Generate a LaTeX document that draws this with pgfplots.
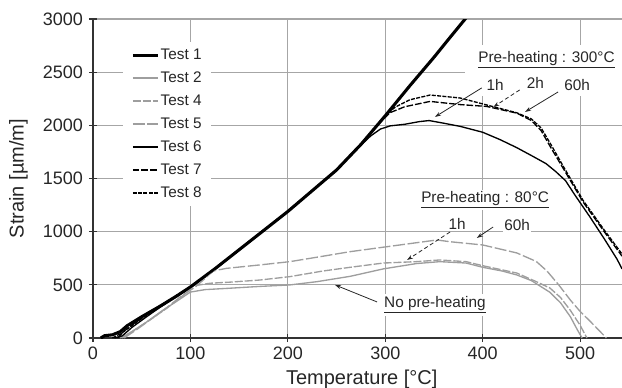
\documentclass[border=0pt]{standalone}
\usepackage{fontspec}
\setmainfont{Liberation Sans}
\usepackage{pgfplots}
\pgfplotsset{compat=1.18}
\usetikzlibrary{arrows.meta}

\newcommand{\fticks}{\fontsize{13.5}{15}\selectfont}
\newcommand{\flabel}{\fontsize{15}{17}\selectfont}
\newcommand{\fsm}{\fontsize{11.5}{13}\selectfont}

\begin{document}
\begin{tikzpicture}
\useasboundingbox (-69.75pt,-36.75pt) rectangle (396.75pt,253.5pt);
\begin{axis}[
  scale only axis,
  width=396.75pt, height=239.25pt,
  xmin=0, xmax=543, ymin=0, ymax=3000,
  xtick={0,100,...,500}, ytick={0,500,...,3000},
  axis x line*=bottom, axis y line*=left,
  axis line style={black!80, line width=1pt, -},
  tick align=center, major tick length=6pt,
  tick style={black!80, line width=0.9pt},
  grid=major,
  major grid style={black!35, line width=0.9pt},
  /pgf/number format/assume math mode=true,
  /pgf/number format/1000 sep={},
  tick label style={font=\fticks, text=black!85},
  xticklabel style={yshift=0pt},
  yticklabel style={xshift=-1pt},
  xlabel={Temperature [°C]},
  ylabel={Strain [µm/m]},
  label style={font=\flabel, text=black!85},
  x label style={at={(axis description cs:0.508,-0.128)}, anchor=center},
  y label style={at={(axis description cs:-0.141,0.5)}, anchor=center},
  legend image code/.code={\draw[#1] (0pt,0pt) -- (18.75pt,0pt);},
  legend cell align=left,
  legend style={at={(axis description cs:0.0567,0.928)}, anchor=north west,
    draw=none, fill=white, inner xsep=6pt, inner ysep=4pt,
    font=\fsm, text=black!85, row sep=6pt,
    nodes={inner xsep=1pt, inner ysep=0pt, text height=9pt, text depth=2.25pt}},
]

% white panel behind the 300 C annotation block
\fill[white] (axis cs:382,2280) rectangle (axis cs:545,2755);

% Test 1: thick black
\addplot[black, line width=2.3pt] coordinates {
(8,0)(12,22)(20,30)(28,60)(35,115)(50,200)(69,300)(85,390)(100,480)
(125,650)(150,830)(175,1010)(200,1190)(225,1385)(250,1580)(275,1820)
(300,2090)(325,2370)(350,2640)(365,2810)(382,3000)(385,3040)};
\addlegendentry{Test 1}

% Test 2: no pre-heating
\addplot[black!38, line width=1pt] coordinates {
(28,0)(40,60)(55,150)(70,250)(85,340)(100,432)(115,455)(140,468)(171,485)
(202,499)(230,530)(264,580)(298,650)(332,700)(356,718)(383,705)(400,665)
(420,630)(435,593)(450,540)(469,430)(480,330)(490,200)(497,80)(502,0)};
\addlegendentry{Test 2}

% Test 4: pre-heating 80 C, 1h
\addplot[black!38, line width=1pt, dash pattern=on 6pt off 1.5pt] coordinates {
(30,0)(45,90)(60,180)(75,275)(90,380)(103,490)(120,515)(140,525)(171,545)
(202,577)(236,630)(264,665)(298,705)(332,718)(356,734)(383,718)(400,680)
(435,611)(455,530)(469,470)(480,380)(490,260)(500,120)(507,0)};
\addlegendentry{Test 4}

% Test 5: pre-heating 80 C, 60h
\addplot[black!38, line width=1pt, dash pattern=on 9pt off 2pt] coordinates {
(32,0)(45,80)(60,180)(75,280)(90,390)(105,480)(115,560)(123,630)(137,655)
(171,687)(202,718)(230,760)(264,812)(315,875)(353,922)(366,906)(400,875)
(435,800)(455,720)(466,630)(478,500)(490,357)(500,250)(510,160)(527,0)};
\addlegendentry{Test 5}

% Test 6: pre-heating 300 C, 1h
\addplot[black, line width=1pt] coordinates {
(22,0)(30,20)(40,100)(55,200)(69,290)(85,385)(100,472)(125,645)(150,825)
(175,1005)(200,1188)(225,1383)(250,1578)(270,1770)(285,1900)(295,1965)
(305,1995)(320,2010)(335,2035)(345,2045)(360,2020)(377,1990)(400,1935)
(418,1865)(435,1790)(452,1706)(465,1640)(475,1565)(485,1480)(495,1340)
(510,1140)(525,930)(538,740)(543,650)};
\addlegendentry{Test 6}

% Test 7: pre-heating 300 C, 2h
\addplot[black, line width=1pt, dash pattern=on 5pt off 1.5pt] coordinates {
(25,0)(35,90)(50,190)(69,300)(85,392)(100,482)(125,652)(150,832)(175,1012)
(200,1192)(225,1387)(250,1582)(275,1822)(295,2030)(305,2120)(320,2175)
(346,2225)(377,2195)(404,2178)(435,2115)(450,2045)(460,1950)(470,1790)
(483,1590)(503,1280)(524,1010)(543,770)};
\addlegendentry{Test 7}

% Test 8: pre-heating 300 C, 60h
\addplot[black, line width=1pt, dash pattern=on 3pt off 1pt] coordinates {
(20,0)(30,50)(45,150)(69,305)(85,395)(100,485)(125,655)(150,835)(175,1015)
(200,1195)(225,1390)(250,1585)(275,1825)(300,2090)(310,2170)(325,2240)
(346,2285)(377,2257)(404,2192)(435,2118)(450,2060)(460,1975)(470,1820)
(483,1610)(503,1295)(524,1025)(543,790)};
\addlegendentry{Test 8}

% annotations
\begin{scope}[font=\fsm, text=black!85]
\node at (axis cs:465.5,2615) {\underline{Pre-heating : 300°C}};
\node at (axis cs:412.7,2380) {1h};
\node at (axis cs:454,2399) {2h};
\node at (axis cs:497,2380) {60h};
\node[fill=white, inner sep=1.5pt] at (axis cs:402.5,1298) {\underline{Pre-heating : 80°C}};
\node[fill=white, inner sep=1pt] at (axis cs:373.7,1072) {1h};
\node[fill=white, inner sep=1pt] at (axis cs:435.3,1063) {60h};
\node[fill=white, inner sep=2pt] at (axis cs:351,310) {\underline{No pre-heating}};
\end{scope}
\begin{scope}[black!85, line width=0.6pt, -{Stealth[length=4.5pt, width=3pt]}]
\draw (axis cs:399,2352) -- (axis cs:351,2079);
\draw[densely dashed] (axis cs:438,2333) -- (axis cs:411,2173);
\draw (axis cs:477.4,2314) -- (axis cs:443.5,2126);
\draw[densely dashed] (axis cs:366.5,997) -- (axis cs:322.4,734);
\draw (axis cs:410.7,1044) -- (axis cs:394,941);
\draw (axis cs:291.6,339) -- (axis cs:248.5,499);
\end{scope}
\end{axis}
\end{tikzpicture}
\end{document}
